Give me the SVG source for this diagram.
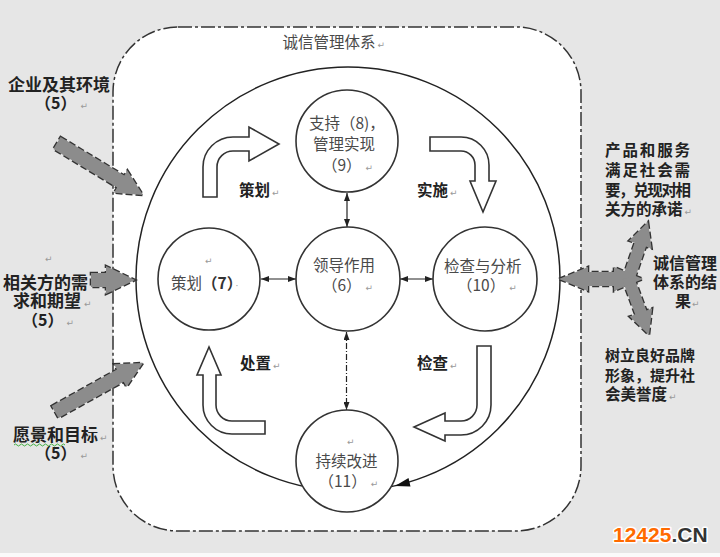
<svg xmlns="http://www.w3.org/2000/svg" xmlns:xlink="http://www.w3.org/1999/xlink" width="720" height="557" viewBox="0 0 720 557">
<style>
.node{fill:#fff;stroke:#333;stroke-width:1.6}
.ct{font-family:"Noto Sans CJK SC","Noto Sans",sans-serif;font-size:15.5px;fill:#4a4a4a}
.bl{font-family:"Noto Sans CJK SC","Noto Sans",sans-serif;font-weight:bold;fill:#222}
.pm{font-family:"DejaVu Sans",sans-serif;font-size:9px;fill:#999;font-weight:normal;letter-spacing:0}
.hollow{fill:#fff;stroke:#333;stroke-width:1.6;stroke-linejoin:miter}
.blk{fill:#8c8c8c}
.blkS{fill:none;stroke:#333;stroke-width:2.6;stroke-dasharray:7 3}
.lnk{stroke:#222;stroke-width:1.2;fill:none}
</style>
<defs>
<marker id="ah" viewBox="0 0 8 6" refX="8" refY="3" markerWidth="8" markerHeight="6" markerUnits="userSpaceOnUse" orient="auto-start-reverse">
<path d="M0,0 L8,3 L0,6 Z" fill="#222"/>
</marker>
<g id="blkShapes">
<polygon points="60.6,137 124.3,175.6 127.4,170.5 143,195 114,192.7 117.1,187.6 53.4,149"/>
<polygon points="91,273 106,273 106,266 135,280 106,294 106,287 91,287"/>
<polygon points="51.6,405.9 116.9,369.6 114,364.3 143,363 126.6,387.1 123.7,381.8 58.4,418.1"/>
<polygon points="559,279 588,267 588,272 614,272 614,267 643,279 614,291 614,286 588,286 588,291"/>
<polygon points="622.3,278.1 634.6,242.7 629,240.8 648,222 651.6,248.4 646,246.5 633.7,281.9"/>
<polygon points="622.4,280.1 635.2,314.6 629.5,316.6 649,335 652.1,308.4 646.4,310.4 633.6,275.9"/>
</g>
</defs>
<rect x="0" y="0" width="720" height="557" fill="#e6e6e6"/>
<rect x="0" y="553" width="720" height="4" fill="#fafafa"/>

<g id="system">
<rect x="113" y="27" width="468" height="504" rx="65" ry="65" fill="#fff" stroke="#333" stroke-width="1.5" stroke-dasharray="14 3 3 3"/>
<text class="ct" font-size="14.5px"><tspan x="282.5" y="48">诚信管理体系</tspan><tspan class="pm" dx="2">↵</tspan></text>
</g>

<g id="cycle">
<circle cx="348" cy="279" r="212" fill="none" stroke="#222" stroke-width="1.5"/>
<polygon points="395,486 408.5,478 410.5,486.5" fill="#111"/>
</g>

<g id="connectors">
<line class="lnk" x1="261" y1="279" x2="296" y2="279" marker-start="url(#ah)" marker-end="url(#ah)"/>
<line class="lnk" x1="400" y1="279" x2="433" y2="279" marker-start="url(#ah)" marker-end="url(#ah)"/>
<line class="lnk" x1="347" y1="193" x2="347" y2="227" marker-start="url(#ah)" marker-end="url(#ah)"/>
<line class="lnk" x1="346.5" y1="332" x2="346.5" y2="410" stroke-dasharray="6 2 1 2" marker-start="url(#ah)" marker-end="url(#ah)"/>
</g>

<g id="pdca-arrows">
<path class="hollow" d="M203,197 L203,167 A30,30 0 0 1 233,137 L249,137 L249,127 L279,144 L249,161 L249,151 L233,151 A16,16 0 0 0 217,167 L217,197 Z"/>
<path class="hollow" d="M430,137 L461,137 A28,28 0 0 1 489,165 L489,181 L496,181 L483,212 L470,181 L475,181 L475,165 A14,14 0 0 0 461,151 L430,151 Z"/>
<path class="hollow" d="M477,346 L491,346 L491,405 A30,30 0 0 1 461,435 L445,435 L445,441 L414,427 L445,413 L445,421 L461,421 A16,16 0 0 0 477,405 Z"/>
<path class="hollow" d="M203,375 L197,375 L209,347 L221,375 L216,375 L216,405 A16,16 0 0 0 232,421 L265,421 L265,434 L232,434 A29,29 0 0 1 203,405 Z"/>
<text class="bl" font-size="15.5px"><tspan x="239" y="196">策划</tspan><tspan class="pm" dx="2">↵</tspan></text>
<text class="bl" font-size="15.5px"><tspan x="417" y="196">实施</tspan><tspan class="pm" dx="2">↵</tspan></text>
<text class="bl" font-size="15.5px"><tspan x="240" y="369">处置</tspan><tspan class="pm" dx="2">↵</tspan></text>
<text class="bl" font-size="15.5px"><tspan x="417" y="369">检查</tspan><tspan class="pm" dx="2">↵</tspan></text>
</g>

<g id="node-support">
<circle class="node" cx="347" cy="141" r="51"/>
<text class="ct"><tspan x="309" y="129">支持（8)，</tspan><tspan x="313" y="150">管理实现</tspan><tspan x="322" y="171">（9）</tspan><tspan class="pm" dx="4">↵</tspan></text>
</g>

<g id="node-plan">
<circle class="node" cx="209" cy="279" r="51"/>
<text class="ct"><tspan class="pm" x="205" y="264">↵</tspan><tspan x="171" y="289">策划</tspan><tspan font-weight="bold" fill="#333">（7）</tspan><tspan class="pm" dx="1">·</tspan></text>
</g>

<g id="node-leadership">
<circle class="node" cx="348" cy="279" r="52"/>
<text class="ct"><tspan x="313" y="271">领导作用</tspan><tspan x="322" y="291">（6）</tspan><tspan class="pm" dx="4">↵</tspan></text>
</g>

<g id="node-check">
<circle class="node" cx="485" cy="279" r="52"/>
<text class="ct"><tspan x="444" y="272">检查与分析</tspan><tspan x="457" y="291">（10）</tspan><tspan class="pm" dx="4">↵</tspan></text>
</g>

<g id="node-improve">
<circle class="node" cx="347" cy="461" r="51"/>
<text class="ct"><tspan class="pm" x="347" y="445">↵</tspan><tspan x="315.5" y="467">持续改进</tspan><tspan x="318.5" y="487">（11）</tspan><tspan class="pm" dx="4">↵</tspan></text>
</g>

<g id="block-arrows">
<use xlink:href="#blkShapes" class="blkS"/>
<use xlink:href="#blkShapes" class="blk"/>
</g>

<g id="input-environment">
<text class="bl" font-size="17px"><tspan x="8" y="91">企业及其环境</tspan><tspan x="35" y="109" font-size="16px">（5）</tspan><tspan class="pm" dx="4">↵</tspan></text>
</g>
<g id="input-stakeholders">
<text class="bl" font-size="17px"><tspan class="pm" x="45" y="262">↵</tspan><tspan x="3" y="289">相关方的需</tspan><tspan x="13" y="307">求和期望</tspan><tspan class="pm" dx="3">↵</tspan><tspan x="22" y="326" font-size="16px">（5）</tspan><tspan class="pm" dx="3">↵</tspan></text>
</g>
<g id="input-vision">
<text class="bl" font-size="17px"><tspan x="13" y="441">愿景和目标</tspan><tspan class="pm" dx="2">↵</tspan><tspan x="35" y="459" font-size="16px">（5）</tspan><tspan class="pm" dx="4">↵</tspan></text>
<path d="M14,445 q1.5,-2 3,0 t3,0 t3,0 t3,0 t3,0 t3,0 t3,0 t3,0 t3,0 t3,0 t3,0 t3,0 t3,0 t3,0 t3,0 t3,0 t3,0" fill="none" stroke="#3a3" stroke-width="0.9"/>
</g>

<g id="output-products">
<text class="bl" font-size="15.5px"><tspan x="605" y="156" letter-spacing="1.9">产品和服务</tspan><tspan x="605" y="176" letter-spacing="1.9">满足社会需</tspan><tspan x="605" y="196" letter-spacing="-1.4">要，兑现对相</tspan><tspan x="605" y="215">关方的承诺</tspan><tspan class="pm" dx="2">↵</tspan></text>
</g>
<g id="output-result">
<text class="bl" font-size="16px"><tspan x="653" y="269">诚信管理</tspan><tspan x="653" y="288">体系的结</tspan><tspan x="675" y="307">果</tspan><tspan class="pm" dx="1">↵</tspan></text>
</g>
<g id="output-brand">
<text class="bl" font-size="15px"><tspan x="605" y="361">树立良好品牌</tspan><tspan x="605" y="381">形象，提升社</tspan><tspan x="605" y="400" font-size="15.5px">会美誉度</tspan><tspan class="pm" dx="2">↵</tspan></text>
</g>

<text x="613" y="542" font-family="Liberation Sans,Arial,sans-serif" font-weight="bold" font-size="21px" stroke="#fff" stroke-width="3" paint-order="stroke" stroke-linejoin="round"><tspan fill="#ff6a00">12425</tspan><tspan fill="#333">.CN</tspan></text>
</svg>
